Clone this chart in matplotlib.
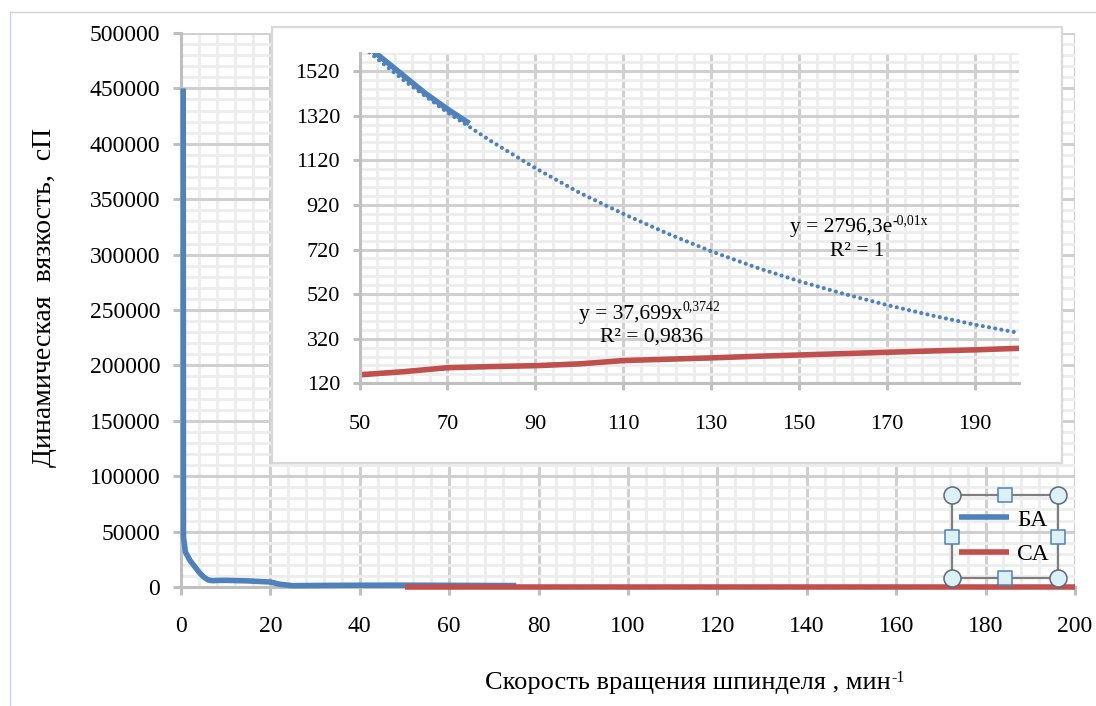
import matplotlib
matplotlib.use('Agg')
import matplotlib.pyplot as plt
import numpy as np
from matplotlib.ticker import MultipleLocator, FixedLocator
from matplotlib.patches import Rectangle

plt.rcParams['font.family'] = ['Liberation Serif', 'DejaVu Serif']

# БА (blue)
ba_x = [0.5, 0.55, 1, 2, 3, 4, 5, 6, 7, 8, 10, 15, 20, 22, 25, 30, 40, 50, 55, 60, 65, 70, 75]
ba_y = [450000, 45000, 31500, 24000, 18800, 13500, 9300, 6500, 5700, 5900, 6000, 5500, 4500,
        2500, 1200, 1400, 1600, 1660, 1580, 1500, 1420, 1350, 1285]

# СА (red)
ca_x = [50, 60, 70, 80, 90, 100, 110, 120, 130, 140, 150, 160, 170, 180, 190, 200]
ca_y = [158, 172, 190, 195, 199, 207, 222, 228, 234, 241, 247, 253, 259, 265, 270, 277]

# trend lines
trend_x = [50, 60, 70, 80, 90, 100, 110, 120, 130, 140, 150, 160, 170, 180, 190, 200]
ba_trend = [1640, 1480, 1335, 1205, 1085, 975, 880, 792, 712, 641, 578, 522, 471, 425, 383, 346]
ca_trend = [163, 175, 185, 194, 203, 211, 219, 226, 233, 240, 246, 252, 258, 263, 269, 274]

labels = ['БА', 'СА']
blue = '#4f81bd'
red = '#c0504d'

W, H = 1096, 706
def fx(px):
    return px / W
def fy(py):
    return 1 - py / H

fig = plt.figure(figsize=(W / 100, H / 100), dpi=100)

# main axes
ax = fig.add_axes([fx(181), fy(587), (1075 - 181) / W, (587 - 33) / H])
ax.set_zorder(0)
ax.set_xlim(0, 200)
ax.set_ylim(0, 500000)
ax.xaxis.set_major_locator(MultipleLocator(20))
ax.xaxis.set_minor_locator(MultipleLocator(4))
ax.yaxis.set_major_locator(MultipleLocator(50000))
ax.yaxis.set_minor_locator(MultipleLocator(10000))
ax.grid(which='major', color='#d0d0d0', lw=2.2)
ax.grid(which='minor', color='#ededed', lw=2)
ax.set_axisbelow(True)
for s in ['top', 'right']:
    ax.spines[s].set_visible(False)
for s in ['left', 'bottom']:
    ax.spines[s].set_color('#bfbfbf')
    ax.spines[s].set_linewidth(2.2)
ax.tick_params(which='major', length=6, width=2.2, color='#bfbfbf', labelsize=17)
ax.tick_params(axis='x', pad=15)
ax.tick_params(axis='y', pad=9)
ax.tick_params(which='minor', length=0)

l_ba, = ax.plot(ba_x, ba_y, color=blue, lw=4, solid_capstyle='butt', zorder=3, clip_on=False)
l_ca, = ax.plot(ca_x, [0] * len(ca_x), color=red, lw=4, solid_capstyle='butt', zorder=3, clip_on=False)

ax.legend([l_ba, l_ca], labels, frameon=False, loc='center',
          bbox_to_anchor=(fx(1004), fy(537)), bbox_transform=fig.transFigure,
          fontsize=17, handlelength=2.1, handletextpad=0.35, labelspacing=0.55)

# white box for the inset
fig.add_artist(Rectangle((fx(272), fy(463)), (1062 - 272) / W, (463 - 27) / H,
                         transform=fig.transFigure, facecolor='white',
                         edgecolor='#d9d9d9', lw=1.6, zorder=1))

# inset axes
ax2 = fig.add_axes([fx(359.5), fy(383.3), (1019 - 359.5) / W, (383.3 - 53.3) / H])
ax2.set_zorder(2)
ax2.set_xlim(50, 200)
ax2.set_ylim(120, 1600)
ax2.set_xticks(np.arange(50, 200, 20))
ax2.set_yticks(np.arange(120, 1600, 200))
ax2.xaxis.set_minor_locator(FixedLocator(np.arange(50, 201, 4)))
ax2.yaxis.set_minor_locator(FixedLocator(np.arange(120, 1601, 40)))
ax2.grid(which='major', color='#d0d0d0', lw=2.2)
ax2.grid(which='minor', color='#ededed', lw=2)
ax2.set_axisbelow(True)
for s in ['top', 'right']:
    ax2.spines[s].set_visible(False)
for s in ['left', 'bottom']:
    ax2.spines[s].set_color('#bfbfbf')
    ax2.spines[s].set_linewidth(2.2)
ax2.tick_params(which='major', length=5, width=2.2, color='#bfbfbf', labelsize=16)
ax2.tick_params(axis='x', pad=18)
ax2.tick_params(axis='y', pad=9)
ax2.tick_params(which='minor', length=0)

ax2.plot(ba_x, ba_y, color=blue, lw=4, solid_capstyle='butt')
ax2.plot(ca_x, ca_y, color=red, lw=4, solid_capstyle='butt')
ax2.plot(trend_x, ba_trend, color=blue, lw=3, linestyle=(0, (0.01, 1.5)), dash_capstyle='round')
ax2.plot(trend_x, ca_trend, color=red, lw=2.5, linestyle=(0, (0.01, 1.5)), dash_capstyle='round')

# overlay: outer chart border, legend selection frame, texts with superscripts
ov = fig.add_axes([0, 0, 1, 1])
ov.set_zorder(5)
ov.set_xlim(0, W)
ov.set_ylim(H, 0)
ov.axis('off')

sups = []


def sup_text(x, y, base, sup, size, rise, scale=0.64):
    t = ov.text(x, y, base, ha='left', va='baseline', fontsize=size)
    sups.append((t, y, sup, size, rise, scale))


sup_text(790, 232, 'y = 2796,3e', '-0,01x', 15.5, 0.36)
ov.text(857, 252, 'R² = 1', ha='center', va='center', fontsize=15.5)
sup_text(579, 319, 'y = 37,699x', '0,3742', 15.5, 0.40)
ov.text(652, 337, 'R² = 0,9836', ha='center', va='center', fontsize=15.5)

# axis titles
ov.text(45, 297, 'Динамическая  вязкость,  сП', rotation=90, ha='center', va='center', fontsize=20)
sup_text(485, 689, 'Скорость вращения шпинделя , мин', '-1', 19, 0.27, 0.6)

# place superscripts after the base texts are measured
fig.canvas.draw()
rend = fig.canvas.get_renderer()
inv = ov.transData.inverted()
for t, y, sup, size, rise, scale in sups:
    bb = t.get_window_extent(rend)
    xd = inv.transform((bb.x1, bb.y0))[0]
    em = size * 100 / 72
    ov.text(xd + 0.5, y - rise * em, sup, ha='left', va='baseline', fontsize=size * scale)

ov.plot([10, W], [12, 12], color='#c9d3e3', lw=1)
ov.plot([10, 10], [12, H], color='#c9d3e3', lw=1)
ov.add_patch(Rectangle((952, 495), 106, 83, fill=False, edgecolor='#7f7f7f', lw=1.6))
ov.scatter([952, 1058, 952, 1058], [495, 495, 578, 578], s=150, marker='o',
           facecolor='#dcf1f6', edgecolor='#5a6a7a', lw=1.1, zorder=6)
ov.scatter([1005, 1005, 952, 1058], [495, 578, 536.5, 536.5], s=90, marker='s',
           facecolor='#dcf1f6', edgecolor='#4f81bd', lw=1.1, zorder=6)

fig.savefig('out.png', dpi=100)
